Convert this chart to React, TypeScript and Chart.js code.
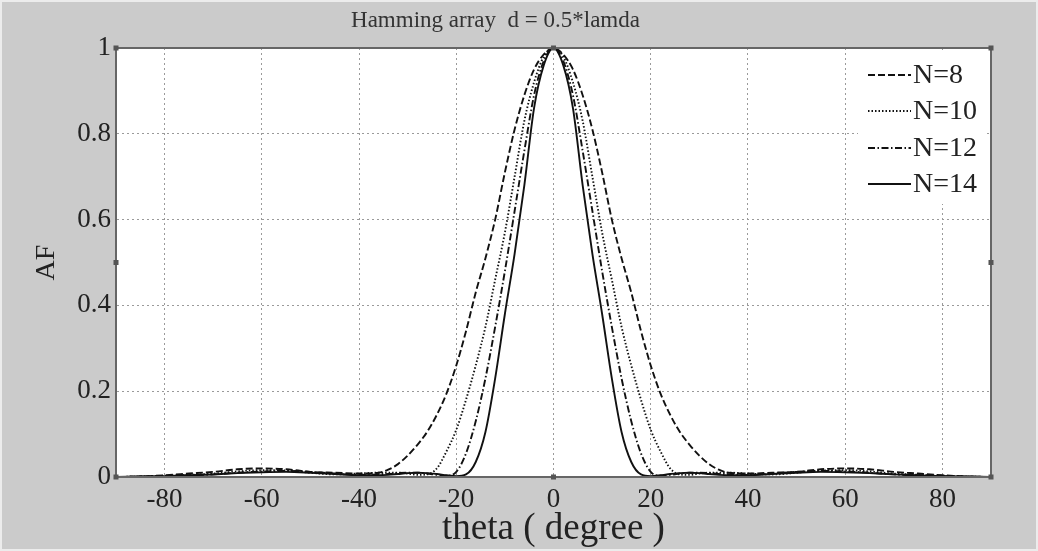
import React, { useEffect, useRef } from "react";
import { Chart, registerables } from "chart.js";

Chart.register(...registerables);

const theta = [-90,-85,-80,-75,-70,-65,-60,-55,-50,-45,-40,-36,-34,-32,-30,-28,-26,-24,-22,-20,-18,-16,-14,-12,-10,-8,-6,-4,-2,0,2,4,6,8,10,12,14,16,18,20,22,24,26,28,30,32,34,36,40,45,50,55,60,65,70,75,80,85,90];

const afN8 = [0,.001,.004,.008,.012,.018,.02,.018,.012,.01,.008,.01,.017,.03,.05,.075,.105,.145,.195,.26,.34,.43,.51,.60,.71,.81,.89,.95,.985,1,.985,.95,.89,.81,.71,.60,.51,.43,.34,.26,.195,.145,.105,.075,.05,.03,.017,.01,.008,.01,.012,.018,.02,.018,.012,.008,.004,.001,0];
const afN10 = [0,.001,.003,.005,.008,.013,.016,.015,.01,.006,.008,.01,.01,.01,.008,.005,.006,.02,.06,.11,.18,.26,.35,.46,.57,.70,.83,.92,.98,1,.98,.92,.83,.70,.57,.46,.35,.26,.18,.11,.06,.02,.006,.005,.008,.01,.01,.01,.008,.006,.01,.015,.016,.013,.008,.005,.003,.001,0];
const afN12 = [0,.001,.002,.004,.006,.01,.013,.014,.012,.008,.005,.006,.007,.009,.01,.01,.008,.005,.003,.012,.055,.13,.23,.35,.48,.62,.76,.89,.97,1,.97,.89,.76,.62,.48,.35,.23,.13,.055,.012,.003,.005,.008,.01,.01,.009,.007,.006,.005,.008,.012,.014,.013,.01,.006,.004,.002,.001,0];
const afN14 = [0,.001,.002,.004,.006,.009,.011,.012,.01,.007,.004,.004,.005,.007,.009,.01,.009,.007,.004,.002,.006,.035,.105,.23,.38,.52,.68,.86,.96,1,.96,.86,.68,.52,.38,.23,.105,.035,.006,.002,.004,.007,.009,.01,.009,.007,.005,.004,.004,.007,.01,.012,.011,.009,.006,.004,.002,.001,0];

const seriesLabels = ["N=8", "N=10", "N=12", "N=14"];
const xTicks = [-80, -60, -40, -20, 0, 20, 40, 60, 80];
const yTicks = [0, 0.2, 0.4, 0.6, 0.8, 1];
const yTickLabels = ["0", "0.2", "0.4", "0.6", "0.8", "1"];
const titleText = "Hamming array  d = 0.5*lamda";
const xTitle = "theta ( degree )";
const yTitle = "AF";

const SERIF = "'Liberation Serif', 'DejaVu Serif', serif";

const bgPlugin = {
  id: "bgPlugin",
  beforeDraw(chart: any) {
    const { ctx, width, height, chartArea } = chart;
    ctx.save();
    ctx.fillStyle = "#ececec";
    ctx.fillRect(0, 0, width, height);
    ctx.fillStyle = "#cbcbcb";
    ctx.fillRect(2, 2, width - 4, height - 4);
    ctx.fillStyle = "#ffffff";
    ctx.fillRect(chartArea.left, chartArea.top, chartArea.right - chartArea.left, chartArea.bottom - chartArea.top);
    ctx.restore();
  },
  afterDraw(chart: any) {
    const { ctx, chartArea } = chart;
    const { left, right, top, bottom } = chartArea;
    ctx.save();
    ctx.strokeStyle = "#666";
    ctx.lineWidth = 2;
    ctx.strokeRect(left, top, right - left, bottom - top);
    ctx.fillStyle = "#555";
    const mx = chart.scales.x.getPixelForValue(0);
    const my = (top + bottom) / 2;
    const pts = [[left, top], [right, top], [left, my], [right, my], [left, bottom], [right, bottom], [mx, top], [mx, bottom]];
    for (const [px, py] of pts) ctx.fillRect(px - 2.5, py - 2.5, 5, 5);
    ctx.restore();
  },
};

const legendPlugin = {
  id: "legendPlugin",
  afterDatasetsDraw(chart: any) {
    const { ctx } = chart;
    ctx.save();
    ctx.fillStyle = "#ffffff";
    ctx.fillRect(858, 52, 128, 152);
    const rows = [75, 111, 148, 184];
    chart.data.datasets.forEach((ds: any, i: number) => {
      const y = rows[i];
      ctx.strokeStyle = "#111";
      ctx.lineWidth = ds.borderWidth;
      ctx.setLineDash(ds.borderDash || []);
      ctx.beginPath();
      ctx.moveTo(868, y);
      ctx.lineTo(911, y);
      ctx.stroke();
      ctx.setLineDash([]);
      ctx.fillStyle = "#222";
      ctx.font = `28px ${SERIF}`;
      ctx.textAlign = "left";
      ctx.textBaseline = "middle";
      ctx.fillText(ds.label, 913, y + 1);
    });
    ctx.restore();
  },
};

export default function App() {
  const ref = useRef<HTMLCanvasElement | null>(null);
  useEffect(() => {
    document.body.style.margin = "0";
    const dashes = [[7, 3], [1.5, 2], [7, 2.5, 1.5, 2.5], []];
    const vals = [afN8, afN10, afN12, afN14];
    const chart = new Chart(ref.current as HTMLCanvasElement, {
      type: "line",
      data: {
        datasets: seriesLabels.map((label, i) => ({
          label,
          data: theta.map((t, j) => ({ x: t, y: vals[i][j] })),
          borderColor: "#111",
          borderWidth: 1.9,
          borderDash: dashes[i],
          pointRadius: 0,
          fill: false,
          cubicInterpolationMode: "monotone" as const,
        })),
      },
      options: {
        animation: false,
        responsive: false,
        maintainAspectRatio: false,
        layout: { padding: { left: 0, right: 47, top: 0, bottom: 0 } },
        plugins: {
          legend: { display: false },
          tooltip: { enabled: false },
          title: {
            display: true,
            text: titleText,
            color: "#333",
            font: { family: SERIF, size: 23, weight: "normal" },
            padding: { top: 7, bottom: 13.4 },
          },
        },
        scales: {
          x: {
            type: "linear",
            min: -90,
            max: 90,
            afterBuildTicks: (s: any) => { s.ticks = xTicks.map((v) => ({ value: v })); },
            afterFit: (s: any) => { s.height = 74; },
            ticks: { color: "#222", font: { family: SERIF, size: 27 }, padding: 7 },
            grid: { color: "#9a9a9a", lineWidth: 1, drawTicks: false },
            border: { display: true, color: "#666", width: 2, dash: [2, 3] },
            title: { display: true, text: xTitle, color: "#222", font: { family: SERIF, size: 37 }, padding: { top: 1, bottom: 0 } },
          },
          y: {
            type: "linear",
            min: 0,
            max: 1,
            afterBuildTicks: (s: any) => { s.ticks = yTicks.map((v) => ({ value: v })); },
            afterFit: (s: any) => { s.width = 116; },
            ticks: {
              color: "#222",
              font: { family: SERIF, size: 27 },
              padding: 5,
              callback: (v: any) => { const k = yTicks.indexOf(Number(v)); return k >= 0 ? yTickLabels[k] : String(v); },
            },
            grid: { color: "#9a9a9a", lineWidth: 1, drawTicks: false },
            border: { display: true, color: "#666", width: 2, dash: [2, 3] },
            title: { display: true, text: yTitle, color: "#222", font: { family: SERIF, size: 28 }, padding: { top: 30, bottom: 0 } },
          },
        },
      },
      plugins: [bgPlugin, legendPlugin],
    } as any);
    return () => chart.destroy();
  }, []);
  return (
    <div style={{ width: 1038, height: 551 }}>
      <canvas ref={ref} width={1038} height={551} style={{ display: "block" }} />
    </div>
  );
}
